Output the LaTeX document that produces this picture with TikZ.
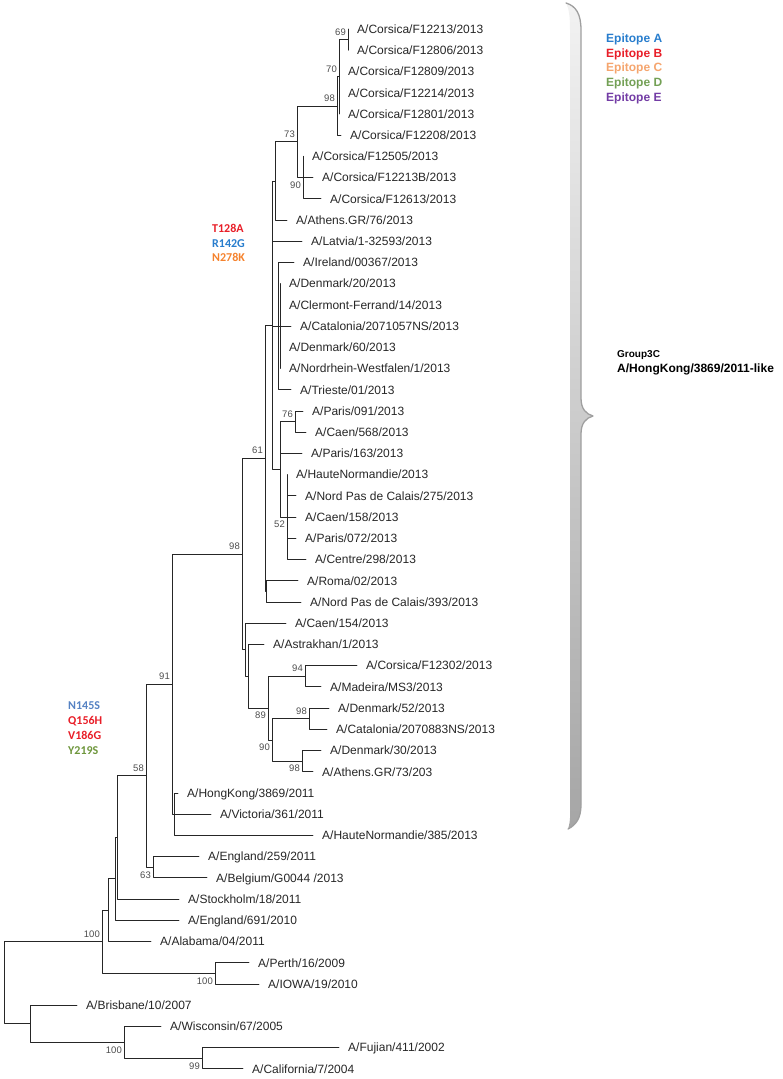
\documentclass[tikz,border=0pt]{standalone}
\usepackage{fontspec}
\setmainfont{Liberation Sans}
\newfontfamily\carlito{Carlito}
\definecolor{epiA}{RGB}{40,125,205}
\definecolor{epiB}{RGB}{232,30,40}
\definecolor{epiC}{RGB}{245,165,110}
\definecolor{epiD}{RGB}{115,160,85}
\definecolor{epiE}{RGB}{115,60,165}
\definecolor{mutBlue}{RGB}{85,130,195}
\definecolor{mutOrange}{RGB}{245,130,45}
\definecolor{mutGreen}{RGB}{110,150,60}
\begin{document}
\begin{tikzpicture}[x=1pt, y=-1pt, line join=round, line cap=round,
	branch/.style={line width=0.75pt, draw=black!85},
	leaf/.style={anchor=west, inner xsep=9pt, inner ysep=0pt, text height=8.6pt, text depth=0pt, font=\fontsize{12}{14}\selectfont, text=black!85},
	boot/.style={inner sep=1pt, font=\fontsize{9.5}{11}\selectfont, text=black!70},
	bup/.style={boot, anchor=south east, xshift=-1pt, yshift=3pt},
	bdn/.style={boot, anchor=north east, xshift=-1pt, yshift=-3pt},
	mut/.style={anchor=west, inner sep=0pt, text height=7.7pt, text depth=0pt, font=\carlito\bfseries\fontsize{12}{14}\selectfont},
	legtxt/.style={anchor=west, inner sep=0pt, text height=8.6pt, text depth=0pt, font=\bfseries\fontsize{12}{14}\selectfont}]
	\useasboundingbox (0,0) rectangle (782,1079);
	% leaves
	\node[leaf] (cF12213) at (348,29.0) {A/Corsica/F12213/2013};
	\node[leaf] (cF12806) at (348,50.2) {A/Corsica/F12806/2013};
	\node[leaf] (cF12809) at (339,71.4) {A/Corsica/F12809/2013};
	\node[leaf] (cF12214) at (339,92.7) {A/Corsica/F12214/2013};
	\node[leaf] (cF12801) at (339,113.9) {A/Corsica/F12801/2013};
	\node[leaf] (cF12208) at (341,135.1) {A/Corsica/F12208/2013};
	\node[leaf] (cF12505) at (303,156.3) {A/Corsica/F12505/2013};
	\node[leaf] (cF12213B) at (313,177.5) {A/Corsica/F12213B/2013};
	\node[leaf] (cF12613) at (321,198.8) {A/Corsica/F12613/2013};
	\node[leaf] (athGR76) at (287,220.0) {A/Athens.GR/76/2013};
	\node[leaf] (latvia) at (302,241.2) {A/Latvia/1-32593/2013};
	\node[leaf] (ireland) at (294,262.4) {A/Ireland/00367/2013};
	\node[leaf] (den20) at (280,283.6) {A/Denmark/20/2013};
	\node[leaf] (clerm) at (280,304.9) {A/Clermont-Ferrand/14/2013};
	\node[leaf] (cat57) at (291,326.1) {A/Catalonia/2071057NS/2013};
	\node[leaf] (den60) at (280,347.3) {A/Denmark/60/2013};
	\node[leaf] (nrw) at (280,368.5) {A/Nordrhein-Westfalen/1/2013};
	\node[leaf] (trieste) at (291,389.7) {A/Trieste/01/2013};
	\node[leaf] (par091) at (303,411.0) {A/Paris/091/2013};
	\node[leaf] (caen568) at (306,432.2) {A/Caen/568/2013};
	\node[leaf] (par163) at (302,453.4) {A/Paris/163/2013};
	\node[leaf] (hnorm) at (287,474.6) {A/HauteNormandie/2013};
	\node[leaf] (npc275) at (296,495.8) {A/Nord Pas de Calais/275/2013};
	\node[leaf] (caen158) at (296,517.0) {A/Caen/158/2013};
	\node[leaf] (par072) at (296,538.3) {A/Paris/072/2013};
	\node[leaf] (centre) at (306,559.5) {A/Centre/298/2013};
	\node[leaf] (roma) at (298,580.7) {A/Roma/02/2013};
	\node[leaf] (npc393) at (301,601.9) {A/Nord Pas de Calais/393/2013};
	\node[leaf] (caen154) at (286,623.1) {A/Caen/154/2013};
	\node[leaf] (astr) at (264,644.4) {A/Astrakhan/1/2013};
	\node[leaf] (cF12302) at (357,665.6) {A/Corsica/F12302/2013};
	\node[leaf] (madeira) at (321,686.8) {A/Madeira/MS3/2013};
	\node[leaf] (den52) at (329,708.0) {A/Denmark/52/2013};
	\node[leaf] (cat83) at (327,729.2) {A/Catalonia/2070883NS/2013};
	\node[leaf] (den30) at (321,750.5) {A/Denmark/30/2013};
	\node[leaf] (athGR73) at (313,771.7) {A/Athens.GR/73/203};
	\node[leaf] (hk) at (178,792.9) {A/HongKong/3869/2011};
	\node[leaf] (vic) at (211,814.1) {A/Victoria/361/2011};
	\node[leaf] (hn385) at (313,835.3) {A/HauteNormandie/385/2013};
	\node[leaf] (eng259) at (199,856.6) {A/England/259/2011};
	\node[leaf] (belg) at (207,877.8) {A/Belgium/G0044 /2013};
	\node[leaf] (stock) at (179,899.0) {A/Stockholm/18/2011};
	\node[leaf] (eng691) at (179,920.2) {A/England/691/2010};
	\node[leaf] (alab) at (151,941.4) {A/Alabama/04/2011};
	\node[leaf] (perth) at (249,962.7) {A/Perth/16/2009};
	\node[leaf] (iowa) at (259,983.9) {A/IOWA/19/2010};
	\node[leaf] (bris) at (77,1005.1) {A/Brisbane/10/2007};
	\node[leaf] (wisc) at (161,1026.3) {A/Wisconsin/67/2005};
	\node[leaf] (fuj) at (339,1047.5) {A/Fujian/411/2002};
	\node[leaf] (calif) at (243,1068.8) {A/California/7/2004};
	% inner nodes
	\coordinate (n69) at (348,39.6);
	\coordinate (n70) at (339,76.8);
	\coordinate (n98a) at (337,105.9);
	\coordinate (n90a) at (303,177.5);
	\coordinate (n73) at (297,141.7);
	\coordinate (nX1) at (275,180.9);
	\coordinate (nC2) at (280,326.1);
	\coordinate (nC) at (278,326.1);
	\coordinate (n76) at (295,421.6);
	\coordinate (n52) at (287,517.1);
	\coordinate (nD) at (280,469.3);
	\coordinate (nB) at (272,325.1);
	\coordinate (nF) at (266,591.3);
	\coordinate (n61) at (265,458.2);
	\coordinate (n94) at (305,676.2);
	\coordinate (n98b) at (309,718.6);
	\coordinate (n98c) at (302,761.1);
	\coordinate (n90b) at (272,739.9);
	\coordinate (n89) at (268,708.0);
	\coordinate (nH) at (248,676.2);
	\coordinate (nG) at (245,649.7);
	\coordinate (n98) at (242,553.9);
	\coordinate (nHK) at (174,814.1);
	\coordinate (n91) at (172,684.0);
	\coordinate (n63) at (153,867.2);
	\coordinate (n58) at (146,775.6);
	\coordinate (nSto) at (117,837.3);
	\coordinate (n691) at (115,878.8);
	\coordinate (nAla) at (108,910.1);
	\coordinate (nPer) at (215,973.3);
	\coordinate (n100) at (102,941.7);
	\coordinate (n99) at (202,1058.2);
	\coordinate (n100b) at (124,1042.2);
	\coordinate (nBris) at (30,1023.7);
	\coordinate (root) at (4,982.7);
	% branches
	\draw[branch] (n69) |- (cF12213.west) (n69) |- (cF12806.west);
	\draw[branch] (n70) |- (n69) (n70) |- (cF12809.west) (n70) |- (cF12214.west) (n70) |- (cF12801.west);
	\draw[branch] (n98a) |- (n70) (n98a) |- (cF12208.west);
	\draw[branch] (n90a) |- (cF12505.west) (n90a) |- (cF12213B.west) (n90a) |- (cF12613.west);
	\draw[branch] (n73) |- (n98a) (n73) |- (n90a);
	\draw[branch] (nX1) |- (n73) (nX1) |- (athGR76.west);
	\draw[branch] (nC2) |- (den20.west) (nC2) |- (clerm.west) (nC2) |- (cat57.west) (nC2) |- (den60.west) (nC2) |- (nrw.west);
	\draw[branch] (nC) |- (ireland.west) (nC) |- (nC2) (nC) |- (trieste.west);
	\draw[branch] (n76) |- (par091.west) (n76) |- (caen568.west);
	\draw[branch] (n52) |- (hnorm.west) (n52) |- (npc275.west) (n52) |- (caen158.west) (n52) |- (par072.west) (n52) |- (centre.west);
	\draw[branch] (nD) |- (n76) (nD) |- (par163.west) (nD) |- (n52);
	\draw[branch] (nB) |- (nX1) (nB) |- (latvia.west) (nB) |- (nC) (nB) |- (nD);
	\draw[branch] (nF) |- (roma.west) (nF) |- (npc393.west);
	\draw[branch] (n61) |- (nB) (n61) |- (nF);
	\draw[branch] (n94) |- (cF12302.west) (n94) |- (madeira.west);
	\draw[branch] (n98b) |- (den52.west) (n98b) |- (cat83.west);
	\draw[branch] (n98c) |- (den30.west) (n98c) |- (athGR73.west);
	\draw[branch] (n90b) |- (n98b) (n90b) |- (n98c);
	\draw[branch] (n89) |- (n94) (n89) |- (n90b);
	\draw[branch] (nH) |- (astr.west) (nH) |- (n89);
	\draw[branch] (nG) |- (caen154.west) (nG) |- (nH);
	\draw[branch] (n98) |- (n61) (n98) |- (nG);
	\draw[branch] (nHK) |- (hk.west) (nHK) |- (vic.west) (nHK) |- (hn385.west);
	\draw[branch] (n91) |- (n98) (n91) |- (nHK);
	\draw[branch] (n63) |- (eng259.west) (n63) |- (belg.west);
	\draw[branch] (n58) |- (n91) (n58) |- (n63);
	\draw[branch] (nSto) |- (n58) (nSto) |- (stock.west);
	\draw[branch] (n691) |- (nSto) (n691) |- (eng691.west);
	\draw[branch] (nAla) |- (n691) (nAla) |- (alab.west);
	\draw[branch] (nPer) |- (perth.west) (nPer) |- (iowa.west);
	\draw[branch] (n100) |- (nAla) (n100) |- (nPer);
	\draw[branch] (n99) |- (fuj.west) (n99) |- (calif.west);
	\draw[branch] (n100b) |- (wisc.west) (n100b) |- (n99);
	\draw[branch] (nBris) |- (bris.west) (nBris) |- (n100b);
	\draw[branch] (root) |- (n100) (root) |- (nBris);
	% bootstrap values
	\node[bup] (b69) at (n69) {69};
	\node[bup] (b70) at (n70) {70};
	\node[bup] (b98a) at (n98a) {98};
	\node[bup] (b73) at (n73) {73};
	\node[bdn] (b90a) at (n90a) {90};
	\node[bup] (b61) at (n61) {61};
	\node[bup] (b76) at (n76) {76};
	\node[bdn] (b52) at (n52) {52};
	\node[bup] (b98) at (n98) {98};
	\node[bup] (b94) at (n94) {94};
	\node[bdn] (b89) at (n89) {89};
	\node[bup] (b98b) at (n98b) {98};
	\node[bdn] (b90b) at (n90b) {90};
	\node[bdn] (b98c) at (n98c) {98};
	\node[bup] (b91) at (n91) {91};
	\node[bup] (b58) at (n58) {58};
	\node[bdn] (b63) at (n63) {63};
	\node[bup] (b100) at (n100) {100};
	\node[bdn] (b100p) at (nPer) {100};
	\node[bdn] (b100b) at (n100b) {100};
	\node[bdn] (b99) at (n99) {99};
	% mutations
	\node[mut, text=epiB] (t128a) at (212,229) {T128A};
	\node[mut, text=epiA] (r142g) at (212,244) {R142G};
	\node[mut, text=mutOrange] (n278k) at (212,258) {N278K};
	\node[mut, text=mutBlue] (n145s) at (68,706) {N145S};
	\node[mut, text=epiB] (q156h) at (68,721) {Q156H};
	\node[mut, text=epiB] (v186g) at (68,736) {V186G};
	\node[mut, text=mutGreen] (y219s) at (68,751) {Y219S};
	% legend
	\foreach \l/\c [count=\i from 0] in {A/epiA,B/epiB,C/epiC,D/epiD,E/epiE}
		\node[legtxt, text=\c] (epi\l) at (606,{38+14.75*\i}) {Epitope \l};
	% brace
	\shade[top color=gray!10, bottom color=gray!70] (566,3) .. controls (576,6) and (581,14) .. (581,30) -- (581,398) .. controls (581,409) and (586,414) .. (593,416) .. controls (586,418) and (581,423) .. (581,434) -- (581,805) .. controls (581,818) and (576,825) .. (568,829) .. controls (571,820) and (570,812) .. (570,800) -- (570,30) .. controls (570,16) and (569,9) .. (566,3) -- cycle;
	\draw[gray!75, line width=1.3pt] (566,3) .. controls (576,6) and (581,14) .. (581,30) -- (581,398) .. controls (581,409) and (586,414) .. (593,416) .. controls (586,418) and (581,423) .. (581,434) -- (581,805) .. controls (581,818) and (576,825) .. (568,829);
	\node[legtxt, font=\bfseries\fontsize{10}{12}\selectfont, text height=7.2pt] (grp3c) at (617,354) {Group3C};
	\node[legtxt] (hklike) at (617,368) {A/HongKong/3869/2011-like};
\end{tikzpicture}
\end{document}
